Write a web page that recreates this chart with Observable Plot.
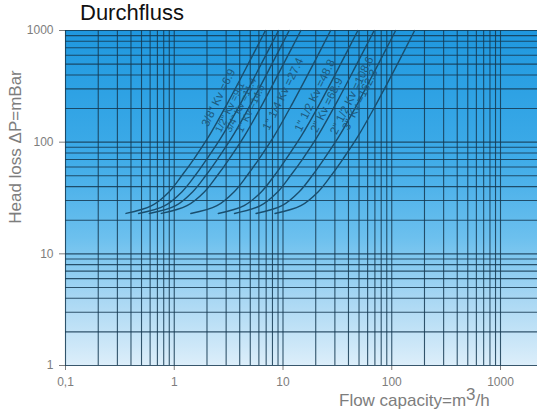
<!DOCTYPE html>
<html>
<head>
<meta charset="utf-8">
<script src="https://cdn.jsdelivr.net/npm/d3@7"></script>
<script src="https://cdn.jsdelivr.net/npm/@observablehq/plot@0.6"></script>
<style>
  body { margin: 0; background: #fff; font-family: "Liberation Sans", Arial, sans-serif; }
  #wrap { position: relative; width: 537px; height: 415px; overflow: hidden; }
  #bg { position: absolute; left: 65px; top: 30px; width: 472px; height: 335px;
        background: linear-gradient(to bottom, #1f97de 0%, #2ba0e3 15%, #3eabe8 38%, #6cc0ee 62%, #a8d7f3 80%, #dceefa 100%); }
  #chart { position: absolute; left: 0; top: 0; }
  .title { position: absolute; left: 80px; top: 1px; font-size: 22px; line-height: 24px; color: #111; white-space: nowrap; }
  .ylab { position: absolute; left: 16px; top: 147px; transform: translate(-50%, -50%) rotate(-90deg);
          font-size: 17px; color: #7d7d7d; white-space: nowrap; }
  .xlab { position: absolute; left: 339px; top: 391px; font-size: 17px; color: #7d7d7d; white-space: nowrap; }
  .xlab .sup { position: relative; top: -6px; }
</style>
</head>
<body>
<div id="wrap">
  <div id="bg"></div>
  <div id="chart"></div>
  <div class="title">Durchfluss</div>
  <div class="ylab">Head loss ΔP=mBar</div>
  <div class="xlab">Flow capacity=m<span class="sup">3</span>/h</div>
</div>
<script>
// ---- data ----
const sizes = ['3/8"', '1/2"', '3/4"', '1"', '1" 1/4', '1" 1/2', '2"', '2" 1/2', '3"'];
const kvValues = [6.9, 9.1, 11.4, 14.6, 27.4, 48.8, 68.9, 108.6, 162.3];

// head loss (mBar) at the read points along every curve
const headLoss = [23, 27, 36, 50, 71, 112, 225, 510, 1000];

// flow (m3/h) at those head-loss points, one list per valve size
const flow_3_8  = [0.36, 0.62, 0.90, 1.17, 1.52, 2.07, 3.10, 4.83, 6.9];
const flow_1_2  = [0.47, 0.82, 1.18, 1.55, 2.00, 2.73, 4.10, 6.37, 9.1];
const flow_3_4  = [0.59, 1.03, 1.48, 1.94, 2.51, 3.42, 5.13, 7.98, 11.4];
const flow_1    = [0.76, 1.31, 1.90, 2.48, 3.21, 4.38, 6.57, 10.2, 14.6];
const flow_1_14 = [1.42, 2.47, 3.56, 4.66, 6.03, 8.22, 12.3, 19.2, 27.4];
const flow_1_12 = [2.54, 4.39, 6.34, 8.30, 10.7, 14.6, 22.0, 34.2, 48.8];
const flow_2    = [3.58, 6.20, 8.96, 11.7, 15.2, 20.7, 31.0, 48.2, 68.9];
const flow_2_12 = [5.65, 9.77, 14.1, 18.5, 23.9, 32.6, 48.9, 76.0, 108.6];
const flow_3    = [8.44, 14.6, 21.1, 27.6, 35.7, 48.7, 73.0, 114, 162.3];
const flows = [flow_3_8, flow_1_2, flow_3_4, flow_1, flow_1_14, flow_1_12, flow_2, flow_2_12, flow_3];

// curve labels and where they sit (flow, head loss)
const labelTexts = ['3/8" Kv =6.9', '1/2" Kv =9.1', '3/4" Kv =11.4', '1" Kv =14.6', '1" 1/4 Kv =27.4',
                    '1" 1/2 Kv =48.8', '2" Kv =68.9', '2" 1/2 Kv =108.6', '3" Kv =162.3'];
const labelFlow = [2.55, 3.25, 4.1, 5.05, 10.0, 19.6, 25.2, 43.0, 51.0];
const labelHead = [250, 205, 215, 200, 270, 262, 215, 262, 240];

// grid lines and tick labels
const xGrid = [0.1,0.2,0.3,0.4,0.5,0.6,0.7,0.8,0.9, 1,2,3,4,5,6,7,8,9, 10,20,30,40,50,60,70,80,90,
               100,200,300,400,500,600,700,800,900, 1000];
const yGrid = [1,2,3,4,5,6,7,8,9, 10,20,30,40,50,60,70,80,90, 100,200,300,400,500,600,700,800,900, 1000];
const xTicks = [0.1, 1, 10, 100, 1000];
const xTickLabels = ["0,1", "1", "10", "100", "1000"];
const yTicks = [1, 10, 100, 1000];
const yTickLabels = ["1", "10", "100", "1000"];

// ---- tables built from the arrays ----
const curveRows = sizes.flatMap((s, i) => flows[i].map((q, j) => ({size: s, q, dp: headLoss[j]})));
const labelRows = labelTexts.map((t, i) => ({text: t, q: labelFlow[i], dp: labelHead[i]}));
const smallLabels = new Set(['1/2" Kv =9.1', '3/4" Kv =11.4', '1" Kv =14.6']);

const chart = Plot.plot({
  width: 537,
  height: 415,
  marginLeft: 65,
  marginRight: 0,
  marginTop: 30,
  marginBottom: 50,
  style: {background: "transparent", color: "#7d7d7d", fontFamily: "Liberation Sans, Arial, sans-serif", fontSize: "12px"},
  x: {type: "log", domain: [0.1, 1000], range: [65, 500], ticks: xTicks,
      tickFormat: d => xTickLabels[xTicks.indexOf(d)], tickSize: 5, tickPadding: 7, label: null},
  y: {type: "log", domain: [1, 1000], ticks: yTicks,
      tickFormat: d => yTickLabels[yTicks.indexOf(d)], tickSize: 6, tickPadding: 6, label: null},
  marks: [
    Plot.ruleY(yGrid, {stroke: "#153a52", strokeWidth: 1.1, strokeOpacity: 0.85}),
    Plot.ruleX(xGrid, {stroke: "#153a52", strokeWidth: 1.1, strokeOpacity: 0.85}),
    Plot.line(curveRows, {x: "q", y: "dp", z: "size", curve: "catmull-rom",
                          stroke: "#1a4e6e", strokeWidth: 1.4}),
    Plot.text(labelRows, {x: "q", y: "dp", text: "text", rotate: -64,
                          fontSize: d => smallLabels.has(d.text) ? 10 : 11.5,
                          fill: "#1d5a7e", textAnchor: "middle"})
  ]
});
document.getElementById("chart").appendChild(chart);
</script>
</body>
</html>
